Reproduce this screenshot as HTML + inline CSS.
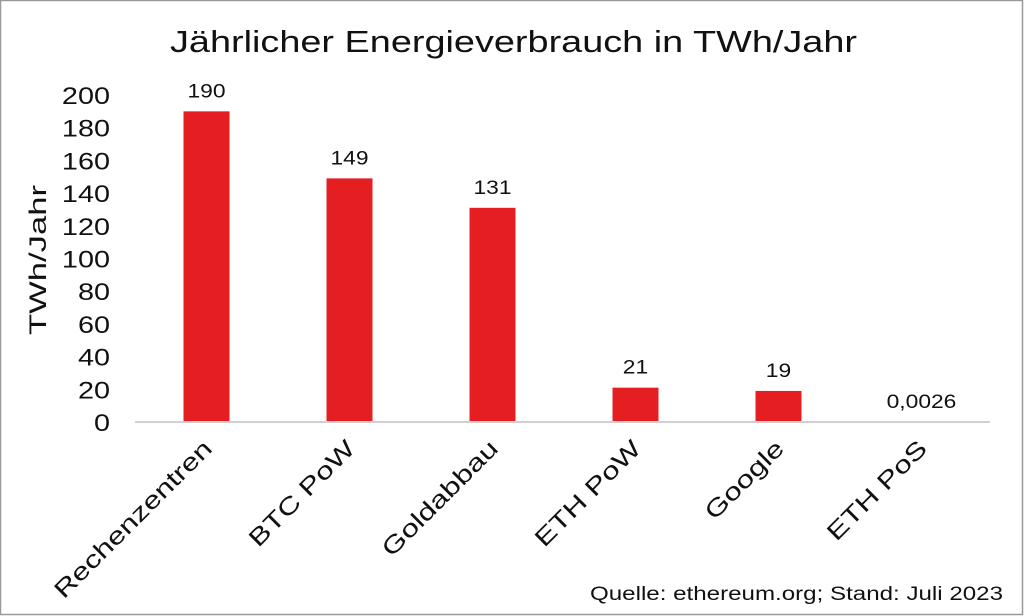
<!DOCTYPE html>
<html><head><meta charset="utf-8"><style>
html,body{margin:0;padding:0;background:#fff;}
svg{display:block;font-family:"Liberation Sans",sans-serif;}
</style></head><body>
<svg id="chart" width="1024" height="616">
<rect x="0.5" y="0.5" width="1022" height="614" fill="#fff" stroke="#999" stroke-width="1.5"/>
<text x="170" y="52" textLength="687" lengthAdjust="spacingAndGlyphs" font-size="31" fill="#111">Jährlicher Energieverbrauch in TWh/Jahr</text>
<text transform="translate(46,335) rotate(-90)" textLength="150" lengthAdjust="spacingAndGlyphs" font-size="24" fill="#111">TWh/Jahr</text>
<text x="590" y="600" textLength="413" lengthAdjust="spacingAndGlyphs" font-size="19" fill="#111">Quelle: ethereum.org; Stand: Juli 2023</text>
<g id="ticks"></g><g id="bars"></g><g id="cats"></g>
<line x1="135" y1="422" x2="990" y2="422" stroke="#d0d0d0" stroke-width="2"/>
</svg>
<script>
const categories=["Rechenzentren","BTC PoW","Goldabbau","ETH PoW","Google","ETH PoS"];
const values=[190,149,131,21,19,0.0026];
const valueLabels=["190","149","131","21","19","0,0026"];
const yTicks=[0,20,40,60,80,100,120,140,160,180,200];
const NS="http://www.w3.org/2000/svg";
const y0=422,y200=95,x0=135,step=143;
function yS(v){return y0-(v/200)*(y0-y200);}
function xC(i){return x0+71.5+i*step;}
function mk(t,a,p){const e=document.createElementNS(NS,t);for(const k in a)e.setAttribute(k,a[k]);p.appendChild(e);return e;}
const tg=document.getElementById('ticks'),bg=document.getElementById('bars'),cg=document.getElementById('cats');
const sc=1.22;
yTicks.forEach(t=>{const e=mk('text',{x:110,y:yS(t)+9,'text-anchor':'end','font-size':24,fill:'#111'},tg);e.textContent=t;


const w=e.getComputedTextLength();e.setAttribute('textLength',w*1.2);e.setAttribute('lengthAdjust','spacingAndGlyphs');});
categories.forEach((c,i)=>{
const cx=xC(i),w=46,top=yS(values[i]);
const r=mk('rect',{x:cx-w/2,y:top,width:w,height:y0-top,fill:'#e51f21'},bg);


const l=mk('text',{x:cx,y:top-14,'text-anchor':'middle','font-size':19,fill:'#111'},bg);l.textContent=valueLabels[i];


const lw=l.getComputedTextLength();l.setAttribute('textLength',lw*1.2);l.setAttribute('lengthAdjust','spacingAndGlyphs');
const t=mk('text',{transform:'translate('+(cx+7)+',450) rotate(-45)','text-anchor':'end','font-size':24,fill:'#111'},cg);t.textContent=c;


const tw=t.getComputedTextLength();t.setAttribute('textLength',tw*1.3);t.setAttribute('lengthAdjust','spacingAndGlyphs');
});
</script>
</body></html>
